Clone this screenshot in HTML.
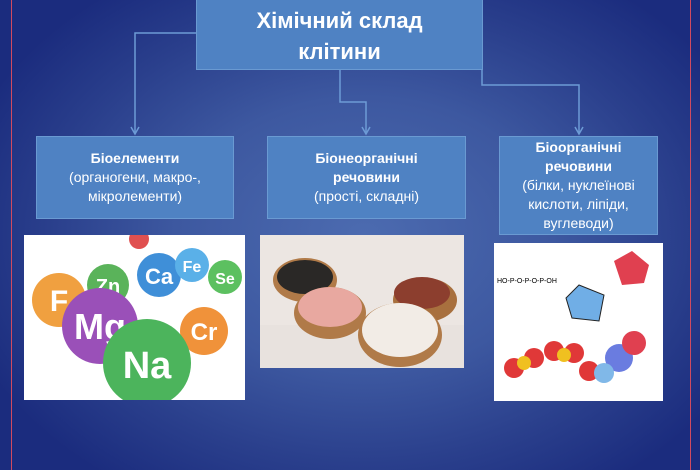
<!DOCTYPE html>
<html><head><meta charset="utf-8"><style>
html,body{margin:0;padding:0}
body{width:700px;height:470px;position:relative;overflow:hidden;font-family:"Liberation Sans","DejaVu Sans",sans-serif;
background:radial-gradient(ellipse 60% 65% at 52% 50%,#4c6bb0 0%,#3d58a0 45%,#2a3f8c 75%,#1b2c7e 100%);}
.red{position:absolute;top:0;width:1px;height:470px;background:#d04a60}
.box{position:absolute;background:#4f82c3;border:1px solid #6a9ad2;color:#fff;text-align:center;box-sizing:border-box;font-size:14px;line-height:19px}
.box b{font-weight:bold}
.img{position:absolute;background:#fff;overflow:hidden}
</style></head><body>
<div class="red" style="left:11px"></div>
<div class="red" style="left:690px"></div>
<svg width="700" height="470" style="position:absolute;left:0;top:0">
<g stroke="#6d9bd6" stroke-width="1.5" fill="none">
<polyline points="197,33 135,33 135,133"/>
<polyline points="340,69 340,102 366,102 366,133"/>
<polyline points="482,69 482,85 579,85 579,133"/>
</g>
<g stroke="#6d9bd6" stroke-width="1.5" fill="none">
<polyline points="131,127 135,134 139,127"/>
<polyline points="362,127 366,134 370,127"/>
<polyline points="575,127 579,134 583,127"/>
</g>
</svg>
<div class="box" style="left:196px;top:-2px;width:287px;height:72px;font-size:22px;line-height:31px;font-weight:bold;padding-top:6px">Хімічний склад<br>клітини</div>
<div class="box" style="left:36px;top:136px;width:198px;height:83px;padding-top:12px"><b>Біоелементи</b><br>(органогени, макро-,<br>мікролементи)</div>
<div class="box" style="left:267px;top:136px;width:199px;height:83px;padding-top:12px"><b>Біонеорганічні</b><br><b>речовини</b><br>(прості, складні)</div>
<div class="box" style="left:499px;top:136px;width:159px;height:99px;padding-top:1px"><b>Біоорганічні</b><br><b>речовини</b><br>(білки, нуклеїнові<br>кислоти, ліпіди,<br>вуглеводи)</div>
<div class="img" style="left:24px;top:235px;width:221px;height:165px">
<svg width="221" height="165" font-family="Liberation Sans" font-weight="bold" fill="#fff" text-anchor="middle">
<circle cx="115" cy="4" r="10" fill="#e05050"/>
<circle cx="35" cy="65" r="27" fill="#f0a040"/><text x="35" y="76" font-size="30" fill="#fff">F</text>
<circle cx="84" cy="50" r="21" fill="#5ab35a"/><text x="84" y="58" font-size="20" fill="#fff">Zn</text>
<circle cx="135" cy="40" r="22" fill="#3f8fd8"/><text x="135" y="49" font-size="22" fill="#fff">Ca</text>
<circle cx="168" cy="30" r="17" fill="#5ab0e8"/><text x="168" y="37" font-size="16" fill="#fff">Fe</text>
<circle cx="201" cy="42" r="17" fill="#5cc060"/><text x="201" y="49" font-size="16" fill="#fff">Se</text>
<circle cx="76" cy="91" r="38" fill="#9a50b8"/><text x="76" y="104" font-size="36" fill="#fff">Mg</text>
<circle cx="180" cy="96" r="24" fill="#f0923a"/><text x="180" y="105" font-size="24" fill="#fff">Cr</text>
<circle cx="123" cy="128" r="44" fill="#4cb45c"/><text x="123" y="143" font-size="38" fill="#fff">Na</text>
</svg></div>
<div class="img" style="left:260px;top:235px;width:204px;height:133px;background:#ece6e2">
<svg width="204" height="133">
<rect x="0" y="90" width="204" height="43" fill="#e8e2de"/>
<ellipse cx="45" cy="45" rx="32" ry="22" fill="#b07a48"/><ellipse cx="45" cy="42" rx="28" ry="17" fill="#2a2826"/>
<ellipse cx="70" cy="78" rx="36" ry="26" fill="#b07a48"/><ellipse cx="70" cy="72" rx="32" ry="20" fill="#e8a8a0"/>
<ellipse cx="165" cy="65" rx="32" ry="22" fill="#a8703e"/><ellipse cx="162" cy="58" rx="28" ry="16" fill="#8c3e2e"/>
<ellipse cx="140" cy="100" rx="42" ry="32" fill="#b07a48"/><ellipse cx="140" cy="95" rx="38" ry="27" fill="#f2ece6"/>
</svg></div>
<div class="img" style="left:494px;top:243px;width:169px;height:158px">
<svg width="169" height="158">
<polygon points="120,18 138,8 155,22 150,40 128,42" fill="#e04050"/>
<polygon points="85,42 110,52 105,78 78,75 72,55" fill="#70aee6" stroke="#222"/>
<text x="3" y="40" font-size="7" font-family="Liberation Sans">HO-P-O-P-O-P-OH</text>
<g fill="#e03838"><circle cx="20" cy="125" r="10"/><circle cx="40" cy="115" r="10"/><circle cx="60" cy="108" r="10"/><circle cx="80" cy="110" r="10"/><circle cx="95" cy="128" r="10"/></g>
<g fill="#f0c020"><circle cx="30" cy="120" r="7"/><circle cx="70" cy="112" r="7"/></g>
<circle cx="125" cy="115" r="14" fill="#6a7ce0"/><circle cx="140" cy="100" r="12" fill="#e04050"/><circle cx="110" cy="130" r="10" fill="#80b8e8"/>
</svg></div>
</body></html>
